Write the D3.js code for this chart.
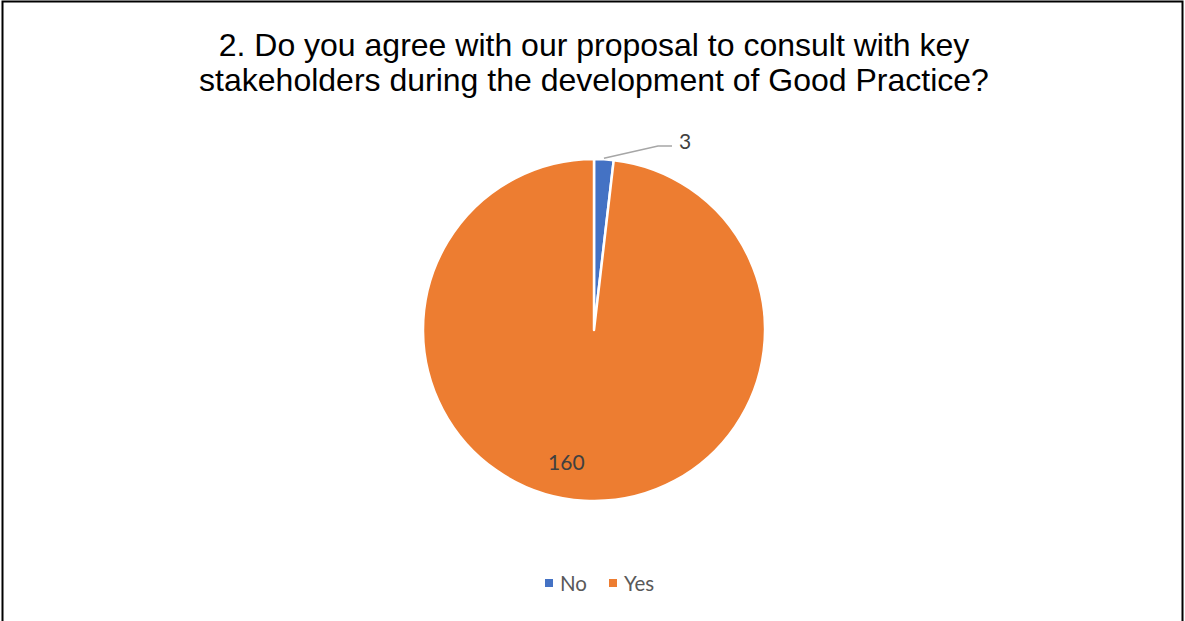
<!DOCTYPE html>
<html>
<head>
<meta charset="utf-8">
<script src="https://cdn.jsdelivr.net/npm/d3@7"></script>
<style>
  body { margin: 0; background: #fff; }
</style>
</head>
<body>
<div id="chart"></div>
<script>
// chart data
let categories = ["No", "Yes"]
let values = [3, 160]
let colors = ["#4472C4", "#ED7D31"]
let titleLines = ["2. Do you agree with our proposal to consult with key", "stakeholders during the development of Good Practice?"]

let width = 1185, height = 621

let svg = d3.select("#chart")
  .append("svg")
  .attr("width", width)
  .attr("height", height)

// outer border
svg.append("rect")
  .attr("x", 2.5).attr("y", 1.5)
  .attr("width", 1180).attr("height", 640)
  .attr("fill", "none")
  .attr("stroke", "#000")
  .attr("stroke-width", 2)

// title
svg.append("g")
  .selectAll("text")
  .data(titleLines)
  .enter()
  .append("text")
  .attr("x", 594)
  .attr("y", function (d, i) { return 56 + i * 35 })
  .attr("text-anchor", "middle")
  .style("font-family", "Liberation Sans, Arial, sans-serif")
  .style("font-size", "32px")
  .style("fill", "#000")
  .text(function (d) { return d })

// pie
let cx = 594, cy = 330, radius = 171
let pie = d3.pie().sort(null).value(function (d) { return d })
let arcs = pie(values)
let arc = d3.arc().innerRadius(0).outerRadius(radius)

let g = svg.append("g").attr("transform", "translate(" + cx + "," + cy + ")")

g.selectAll("path")
  .data(arcs)
  .enter()
  .append("path")
  .attr("d", arc)
  .attr("fill", function (d, i) { return colors[i] })
  .attr("stroke", "#fff")
  .attr("stroke-width", 2.5)
  .attr("stroke-linejoin", "round")

// label for the small slice, with leader line
let smallMid = (arcs[0].startAngle + arcs[0].endAngle) / 2
let p0 = [Math.sin(smallMid) * (radius + 1), -Math.cos(smallMid) * (radius + 1)]
let lineEnd = [78, -184]
g.append("polyline")
  .attr("points", [p0, [lineEnd[0] - 14, lineEnd[1]], lineEnd].map(function (p) { return p.join(",") }).join(" "))
  .attr("fill", "none")
  .attr("stroke", "#A6A6A6")
  .attr("stroke-width", 1.5)

g.append("text")
  .attr("x", lineEnd[0] + 7)
  .attr("y", lineEnd[1] + 2.5)
  .style("font-family", "Lato, Carlito, sans-serif")
  .style("font-size", "21px")
  .style("fill", "#404040")
  .text(values[0])

// label for the big slice
let bigMid = (arcs[1].startAngle + arcs[1].endAngle) / 2
let lr = radius * 0.78
g.append("text")
  .attr("x", Math.sin(bigMid) * lr - 20)
  .attr("y", -Math.cos(bigMid) * lr + 7)
  .attr("text-anchor", "middle")
  .style("font-family", "Lato, Carlito, sans-serif")
  .style("font-size", "21px")
  .style("fill", "#404040")
  .text(values[1])

// legend
let legendX = [545, 609]
let legend = svg.append("g")
  .selectAll("g")
  .data(categories)
  .enter()
  .append("g")
  .attr("transform", function (d, i) { return "translate(" + legendX[i] + ",583)" })

legend.append("rect")
  .attr("x", 0).attr("y", -4)
  .attr("width", 8).attr("height", 8)
  .attr("fill", function (d, i) { return colors[i] })

legend.append("text")
  .attr("x", 15)
  .attr("y", 7.5)
  .style("font-family", "Lato, Carlito, sans-serif")
  .style("font-size", "20.5px")
  .style("fill", "#595959")
  .text(function (d) { return d })
</script>
</body>
</html>
